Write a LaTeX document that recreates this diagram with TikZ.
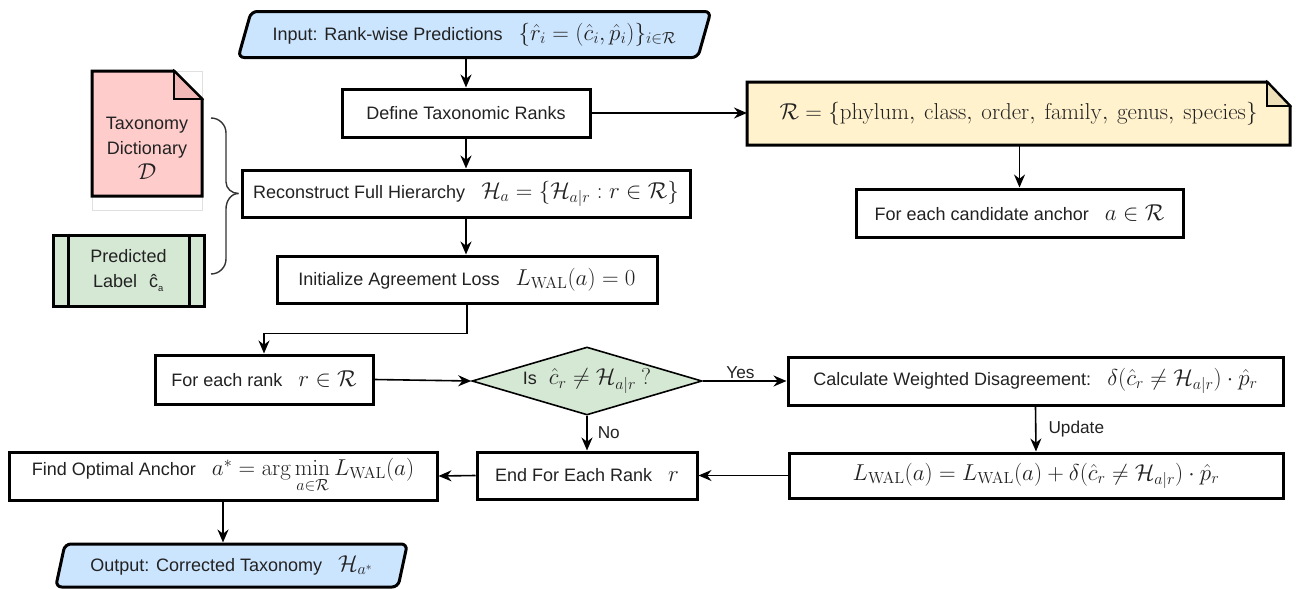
\RequirePackage{fix-cm}
\documentclass[tikz,border=0pt]{standalone}
\usepackage{amsmath}
\usepackage[no-math]{fontspec}
\setmainfont{Liberation Sans}[Scale=0.783]
\usetikzlibrary{shapes.geometric,arrows.meta,backgrounds}
\definecolor{ioblue}{HTML}{CCE5FF}
\definecolor{noteyellow}{HTML}{FFF2CC}
\definecolor{foldyellow}{HTML}{EDE0B8}
\definecolor{dictred}{HTML}{FFCCCC}
\definecolor{foldred}{HTML}{F2B8B8}
\definecolor{lblgreen}{HTML}{D5E8D4}
\definecolor{txt}{HTML}{222222}
\newcommand{\wal}{L_{\mathrm{WAL}}}
\newcommand{\tgap}{\hspace{16pt}}
\tikzset{
  base/.style={font=\fontsize{23}{27}\selectfont, text=txt, align=center, inner sep=0pt},
  procbox/.style={base, draw=black, line width=3pt, fill=white},
  iobox/.style={base, draw=black, line width=3pt, fill=ioblue, shape=trapezium,
     trapezium stretches=true, rounded corners=6pt},
  decbox/.style={base, draw=black, line width=1.6pt, fill=lblgreen, shape=diamond, aspect=3.3},
  plain/.style={base},
  arr/.style={line width=1.6pt, -{Stealth[length=13pt,width=11pt]}},
  lbl/.style={font=\fontsize{22}{25}\selectfont, text=txt, inner sep=2pt},
  bracepath/.style={line width=1.4pt, draw=black!80},
}
\begin{document}
\begin{tikzpicture}[x=1pt,y=-1pt]
\useasboundingbox (0,0) rectangle (1296,589);

% input / output
\node[iobox, trapezium left angle=63, trapezium right angle=117,
      minimum width=474, minimum height=46] (in) at (474.5,34.5)
  {Input: Rank-wise Predictions\tgap$\{\hat r_i=(\hat c_i,\hat p_i)\}_{i\in\mathcal R}$};
\node[iobox, trapezium left angle=68, trapezium right angle=112,
      minimum width=353, minimum height=43] (out) at (231.5,565.5)
  {Output: Corrected Taxonomy\tgap$\mathcal H_{a^*}$};

% process boxes
\node[procbox, minimum width=248, minimum height=48] (define) at (466,113) {Define Taxonomic Ranks};
\node[procbox, minimum width=448, minimum height=47] (recon) at (466,193.5)
  {Reconstruct Full Hierarchy\tgap$\mathcal H_a=\{\mathcal H_{a|r}:r\in\mathcal R\}$};
\node[procbox, minimum width=380, minimum height=47] (init) at (467,279.5)
  {Initialize Agreement Loss\tgap$\wal(a)=0$};
\node[procbox, minimum width=218, minimum height=49] (foreach) at (264,379.5)
  {For each rank\tgap$r\in\mathcal R$};
\node[decbox, minimum width=230, minimum height=68] (dec) at (587,381)
  {Is\hspace{12pt}$\hat c_r\neq\mathcal H_{a|r}\ ?$};
\node[procbox, minimum width=495, minimum height=48] (calc) at (1035.5,381)
  {Calculate Weighted Disagreement:\tgap$\delta(\hat c_r\neq\mathcal H_{a|r})\cdot\hat p_r$};
\node[procbox, minimum width=494, minimum height=45] (upd) at (1036,475.5)
  {$\wal(a)=\wal(a)+\delta(\hat c_r\neq\mathcal H_{a|r})\cdot\hat p_r$};
\node[procbox, minimum width=220, minimum height=47] (endr) at (587,475.5)
  {End For Each Rank\tgap$r$};
\node[procbox, minimum width=428, minimum height=48] (find) at (223,476)
  {Find Optimal Anchor\tgap$a^*=\arg\min\limits_{a\in\mathcal R}\wal(a)$};
\node[procbox, minimum width=327, minimum height=48] (cand) at (1019.5,213)
  {For each candidate anchor\tgap$a\in\mathcal R$};

% R note
\fill[noteyellow, draw=black, line width=3pt, line join=miter]
  (747,82) -- (1267,82) -- (1290,106) -- (1290,145) -- (747,145) -- cycle;
\fill[foldyellow, draw=black, line width=1.8pt] (1267,82) -- (1267,106) -- (1290,106) -- cycle;
\node[plain, minimum width=543, minimum height=63] (rset) at (1018.5,113.5)
  {$\mathcal R=\{\mathrm{phylum,\ class,\ order,\ family,\ genus,\ species}\}$};

% taxonomy dictionary note
\draw[black!12, line width=0.6pt] (92,71) rectangle (202,210);
\fill[dictred, draw=black, line width=3pt]
  (92,71) -- (174,71) -- (202,99) -- (202,196) -- (92,196) -- cycle;
\fill[foldred, draw=black, line width=1.8pt] (174,71) -- (174,99) -- (202,99) -- cycle;
\node[plain, minimum width=110, minimum height=125, font=\fontsize{23}{25}\selectfont] (dict) at (147,148)
  {Taxonomy\\Dictionary\\$\mathcal D$};

% predicted label
\node[procbox, fill=lblgreen, minimum width=151, minimum height=71, font=\fontsize{23}{25}\selectfont] (pred) at (128.5,270.5)
  {Predicted\\Label\hspace{12pt}ĉ\textsubscript{\fontsize{12}{12}\selectfont a}};
\draw[line width=3pt] ([xshift=17pt]pred.north west) -- ([xshift=17pt]pred.south west);
\draw[line width=3pt] ([xshift=-16pt]pred.north east) -- ([xshift=-16pt]pred.south east);

% brace
\coordinate (btop) at (211,118);
\coordinate (bbot) at (211,274);
\coordinate (btip) at ([xshift=-2pt]recon.west);
\draw[bracepath] (btop) to[out=0,in=90] (226,133) -- (226,182) to[out=-90,in=180] (btip);
\draw[bracepath] (btip) to[out=180,in=90] (226,209) -- (226,259) to[out=-90,in=0] (bbot);

% connectors
\draw[arr] (in.south -| define.north) -- (define.north);
\draw[arr] (define.east) -- (747,113);
\draw[arr] (1019.5,145) -- (cand.north);
\draw[arr] (define.south) -- (recon.north);
\draw[arr] (recon.south) -- (recon.south |- init.north);
\draw[arr] (init.south) -- ++(0,29) -| (foreach.north);
\draw[arr] (foreach.east) -- (dec.west);
\draw[arr] (dec.east) -- node[lbl, above, pos=0.45] (yes) {Yes} (calc.west);
\draw[arr] (dec.south) -- node[lbl, right, xshift=8pt] (no) {No} (endr.north);
\draw[arr] (calc.south) -- node[lbl, right, xshift=10pt] (updl) {Update} (upd.north);
\draw[arr] (upd.west) -- (endr.east);
\draw[arr] (endr.west) -- (find.east);
\draw[arr] (find.south) -- (find.south |- out.north);
\end{tikzpicture}
\end{document}
